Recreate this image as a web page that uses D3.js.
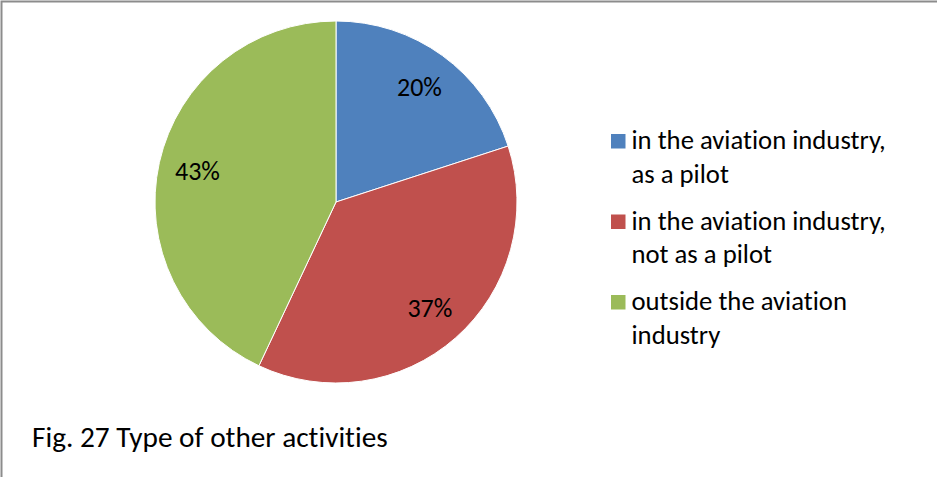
<!DOCTYPE html>
<html>
<head>
<meta charset="utf-8">
<script src="https://cdn.jsdelivr.net/npm/d3@7"></script>
<style>
  html, body { margin: 0; padding: 0; background: #fff; }
  svg { display: block; }
  text { font-family: Carlito, Calibri, Lato, "Liberation Sans", sans-serif; fill: #000; font-variant-ligatures: none; }
</style>
</head>
<body>
<svg id="chart" width="937" height="477"></svg>
<script>
const categories = ["in the aviation industry, as a pilot", "in the aviation industry, not as a pilot", "outside the aviation industry"];
const legendLines = [["in the aviation industry,", "as a pilot"], ["in the aviation industry,", "not as a pilot"], ["outside the aviation", "industry"]];
const values = [20, 37, 43];
const colors = ["#4F81BD", "#C0504D", "#9BBB59"];
const title = "Fig. 27 Type of other activities";

const svg = d3.select("#chart");
const W = 937, H = 477;

// chart border (top and left visible)
svg.append("path")
  .attr("d", `M1.5,${H} L1.5,1.5 L${W},1.5`)
  .attr("fill", "none").attr("stroke", "#8c8c8c").attr("stroke-width", 2);

const cx = 336, cy = 202, r = 181;
const pie = d3.pie().sort(null).value(d => d)(values);
const arc = d3.arc().innerRadius(0).outerRadius(r);
const labelArc = d3.arc().innerRadius(142).outerRadius(142);

const g = svg.append("g").attr("transform", `translate(${cx},${cy})`);
g.selectAll("path.slice").data(pie).join("path")
  .attr("class", "slice")
  .attr("d", arc)
  .attr("fill", (d, i) => colors[i])
  .attr("stroke", "#fff").attr("stroke-width", 1);

const total = d3.sum(values);
g.selectAll("text.lbl").data(pie).join("text")
  .attr("class", "lbl")
  .attr("transform", d => `translate(${labelArc.centroid(d)})`)
  .attr("text-anchor", "middle")
  .attr("dy", "0.33em")
  .attr("font-size", 26)
  .text(d => Math.round(d.data / total * 100) + "%");

// legend
const legend = svg.append("g");
const ly = d3.scalePoint().domain(d3.range(categories.length)).range([149, 310]);
categories.forEach((c, i) => {
  const y = ly(i);
  legend.append("rect")
    .attr("x", 611).attr("y", y - 15).attr("width", 14.5).attr("height", 14.5)
    .attr("fill", colors[i]);
  legendLines[i].forEach((line, j) => {
    legend.append("text")
      .attr("x", 631.5).attr("y", y + j * 33.7)
      .attr("font-size", 26.7)
      .text(line);
  });
});

svg.append("text")
  .attr("x", 32).attr("y", 446.5)
  .attr("font-size", 29.3)
  .text(title);
</script>
</body>
</html>
